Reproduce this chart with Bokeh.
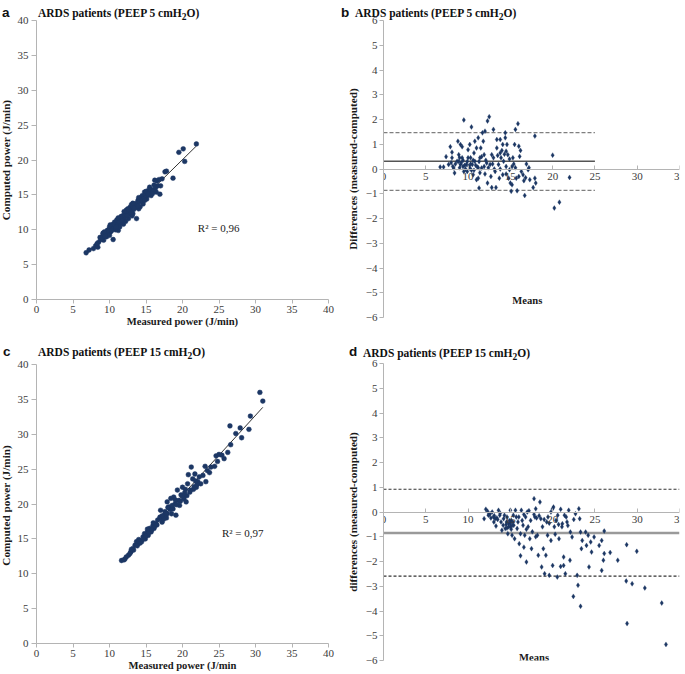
import numpy as np
from bokeh.plotting import figure
from bokeh.layouts import column, row
from bokeh.models import Range1d, LinearAxis, SingleIntervalTicker, Label, Div
from bokeh.embed import file_html
from bokeh.resources import INLINE

# ---------------- data ----------------
# Panel a: PEEP 5, measured vs computed power (J/min)
a_measured = [6.8, 7.2, 7.8, 8.1, 8.5, 8.4, 8.9, 9.3, 9.2, 9.8, 9.7, 10.1, 10.5, 10.3, 10.7, 11.0, 10.7, 11.2, 11.4, 11.7,
              11.9, 12.1, 12.3, 12.6, 12.8, 13.2, 13.5, 13.7, 13.9, 14.0, 14.4, 14.6, 14.8, 15.1, 15.3, 15.5, 15.7, 15.8, 16.2, 16.4,
              16.6, 16.9, 17.0, 17.2, 17.6, 17.8, 18.7, 19.5, 20.1, 20.3, 21.9,
              9.0, 9.5, 9.9, 10.2, 10.4, 10.6, 10.9, 11.1, 11.3, 11.5, 11.8, 12.0, 12.2, 12.4, 12.7, 12.9, 13.1, 13.3, 13.6, 13.8,
              14.1, 14.3, 14.5, 14.7, 14.9, 15.0, 15.2, 15.4, 15.6, 16.0, 16.1, 16.5, 9.6, 10.0, 10.8, 11.6, 12.5, 13.4,
              8.7, 9.1, 10.0, 11.0, 12.0, 13.0, 14.0, 11.4, 12.2, 13.1, 14.2,
              8.3, 8.8, 9.4, 9.8, 10.3, 10.5, 10.9, 11.3, 11.7, 12.1, 12.6, 13.0, 13.4, 13.9, 14.4, 14.8, 15.3, 15.9, 16.3, 16.8,
              9.3, 10.1, 11.2, 12.4, 13.2]
a_computed = [6.7, 7.1, 7.3, 7.7, 8.2, 7.5, 8.7, 9.2, 8.5, 9.4, 9.9, 9.65, 8.6, 10.1, 10.4, 10.8, 11.1, 9.9, 11.3, 11.8,
              10.8, 12.3, 12.8, 11.6, 13.2, 12.3, 13.7, 11.6, 14.2, 13.0, 14.7, 13.7, 15.4, 14.4, 15.6, 16.1, 14.9, 15.7, 17.1, 15.4,
              16.3, 15.1, 16.3, 17.3, 18.3, 18.4, 17.4, 21.1, 21.6, 19.8, 22.3,
              9.0, 9.6, 10.0, 9.8, 10.6, 10.2, 11.0, 10.6, 11.6, 11.0, 12.0, 11.5, 12.1, 12.5, 12.2, 12.7, 13.3, 12.9, 13.2, 13.8,
              14.0, 14.3, 14.9, 14.5, 15.1, 15.5, 14.9, 15.3, 15.8, 15.6, 16.4, 17.0, 9.0, 10.4, 10.0, 11.9, 13.0, 13.5,
              8.9, 9.5, 9.2, 11.4, 12.6, 13.6, 14.6, 10.4, 11.2, 12.0, 13.3,
              8.0, 8.6, 9.1, 9.9, 9.9, 10.8, 10.4, 11.2, 11.3, 12.0, 12.9, 12.5, 13.1, 13.4, 14.1, 14.2, 15.1, 15.2, 16.0, 17.2,
              9.7, 10.7, 11.7, 12.0, 13.8]
a_r2 = "R² = 0,96"

# Panel b: PEEP 5, Bland-Altman
b_means = [6.7, 7.1, 7.4, 7.9, 7.7, 8.1, 8.1, 8.3, 8.4, 8.7, 8.8, 8.9, 9.1, 9.1, 9.3, 9.3, 9.4, 9.5, 9.5, 9.8,
           10.0, 10.0, 10.2, 10.2, 10.3, 10.4, 10.5, 10.6, 10.7, 10.8, 10.8, 11.0, 11.0, 11.1, 11.2, 11.2, 11.3, 11.4, 11.5, 11.6,
           11.7, 11.8, 11.9, 12.0, 12.2, 12.3, 12.3, 12.5, 12.6, 12.7, 12.8, 12.8, 13.0, 13.0, 13.2, 13.3, 13.4, 13.4, 13.6, 13.7,
           13.8, 13.8, 13.9, 14.1, 14.1, 14.2, 14.4, 14.4, 14.5, 14.5, 14.6, 14.7, 14.8, 14.9, 15.0, 15.1, 15.2, 15.2, 15.3, 15.5,
           15.6, 15.7, 15.8, 15.9, 16.0, 16.1, 16.3, 16.5, 16.6, 16.7, 16.9, 17.1, 17.3, 17.7, 17.9, 17.9, 18.0, 20.0, 20.2, 20.8, 22.0,
           8.5, 8.9, 9.0, 9.2, 9.4, 9.6, 9.7, 9.9, 10.1, 10.3, 10.4, 10.6, 10.9, 11.2, 11.3, 11.6, 11.9, 12.1, 12.4, 12.9,
           13.5, 14.0, 14.3, 14.9, 15.4, 8.2, 8.0, 9.0, 9.9, 10.7, 11.4, 12.0, 13.1, 13.8, 14.5, 15.6, 16.2, 16.0, 16.8, 17.2]
b_diffs = [0.08, 0.08, 0.5, 0.9, 0.18, 0.68, 0.45, 0.04, -0.16, 0.31, 1.12, 0.58, 0.18, 0.99, 0.9, 0.45, 0.1, 1.98, -0.1, 0.18,
           0.45, 0.78, 0.04, 0.99, 0.45, 1.7, 0.18, -0.23, 0.65, 1.12, 0.31, 0.85, -0.43, 0.08, 1.26, -0.37, -0.77, 0.45, 0.85, 0.04,
           1.46, 1.12, 0.58, 1.53, 0.24, -0.57, 1.94, 2.11, 0.18, -0.3, 0.58, -0.75, 1.6, 0.45, -0.1, -0.75, 1.19, 0.85, 0.18, -0.37,
           1.19, 0.65, 0.45, -0.23, 0.99, 0.31, 1.46, 1.26, 0.72, 0.1, 0.99, 0.58, -0.37, -0.03, -0.57, -0.9, -0.64, 0.1, 0.45, 0.99,
           1.6, -0.37, -0.88, 1.83, 0.92, 0.51, -0.1, -0.23, -0.47, -1.07, 0.2, -0.03, -0.43, -0.75, -0.37, 1.33, -0.57, 0.56, -1.58, -1.34, -0.34,
           0.2, 0.3, 0.05, 0.25, 0.35, 0.15, 0.0, 0.3, 0.12, 0.2, -0.05, 0.35, 0.15, 0.05, 0.3, 0.5, 0.1, 0.35, 0.05, 0.2,
           0.55, 0.75, 0.6, 0.4, 0.2, 0.1, 0.25, 0.45, -0.1, -0.05, -0.15, -0.2, 0.0, 0.0, -0.2, 0.05, 0.75, -0.3, -0.35, 0.05]
b_bias = 0.31
b_limits = [1.47, -0.86]
b_line_x = [0, 25]

# Panel c: PEEP 15, measured vs computed power (J/min)
c_measured = [11.65, 12.1, 12.3, 12.6, 12.9, 13.2, 13.5, 13.7, 13.9, 14.1, 14.4, 14.6, 14.8, 14.9, 15.2, 15.3, 15.5, 15.7, 15.95, 16.1,
              16.3, 16.6, 16.9, 17.0, 17.2, 17.5, 17.6, 17.8, 17.9, 18.2, 18.4, 18.5, 18.7, 18.8, 19.0, 19.1, 19.3, 19.5, 19.6, 19.8,
              20.0, 20.2, 20.4, 20.5, 20.7, 20.8, 21.0, 21.2, 21.4, 21.5, 21.7, 21.9, 22.1, 22.3, 22.5, 22.8, 23.1, 23.2, 23.4, 23.7,
              23.9, 24.4, 24.6, 24.8, 25.0, 25.4, 25.7, 26.2, 26.5, 26.6, 27.3, 27.9, 28.1, 29.1, 29.3, 30.6, 31.0,
              12.0, 12.8, 13.3, 13.8, 14.2, 14.7, 15.0, 15.4, 15.8, 16.2, 16.5, 17.1, 17.4, 17.9, 18.3, 18.6, 19.2, 19.7, 20.1, 20.6,
              21.1, 21.6, 22.0, 18.0, 19.0, 16.0, 15.2, 14.0, 13.0, 17.2, 20.3, 21.8]
c_computed = [11.9, 12.1, 12.4, 12.65, 13.1, 13.6, 14.1, 14.6, 14.3, 14.8, 14.6, 15.3, 15.75, 15.0, 16.0, 15.5, 16.5, 16.0, 16.9, 16.5,
              17.2, 17.7, 18.1, 19.1, 17.4, 18.4, 18.9, 18.0, 20.3, 19.6, 20.8, 18.6, 19.3, 21.0, 20.0, 18.4, 22.0, 20.5, 19.8, 21.3,
              22.4, 20.7, 22.1, 20.3, 22.9, 24.2, 21.7, 25.3, 23.6, 22.1, 24.3, 22.4, 23.2, 23.9, 22.9, 24.1, 25.4, 23.2, 24.8, 24.5,
              25.3, 25.4, 26.9, 26.1, 27.1, 27.0, 26.5, 27.4, 31.2, 28.5, 30.1, 30.9, 29.5, 30.7, 32.6, 36.0, 34.75,
              12.0, 12.9, 13.4, 14.0, 14.4, 15.0, 15.4, 15.9, 16.3, 16.8, 17.0, 17.9, 17.8, 18.6, 19.2, 19.8, 19.9, 20.4, 21.0, 21.2,
              22.0, 22.5, 22.8, 19.5, 20.6, 17.3, 16.4, 14.9, 13.5, 18.3, 21.6, 23.3]
c_r2 = "R² = 0,97"

# Panel d: PEEP 15, Bland-Altman
d_means = [11.9, 12.1, 12.3, 12.4, 12.6, 12.7, 12.85, 13.0, 13.05, 13.2, 13.3, 13.4, 13.6, 13.75, 13.9, 14.0, 14.15, 14.2, 14.3, 14.4,
           14.55, 14.6, 14.7, 14.8, 15.0, 15.0, 15.1, 15.2, 15.35, 15.4, 15.5, 15.6, 15.7, 15.8, 15.9, 16.05, 16.2, 16.2, 16.3, 16.4,
           16.5, 16.6, 16.7, 16.8, 16.9, 17.0, 17.1, 17.3, 17.4, 17.5, 17.8, 17.9, 18.0, 18.1, 18.2, 18.3, 18.5, 18.6, 18.7, 18.8,
           18.9, 19.05, 19.2, 19.3, 19.4, 19.45, 19.6, 19.8, 19.8, 20.0, 20.0, 20.1, 20.2, 20.4, 20.55, 20.6, 20.75, 20.95, 20.95, 21.15,
           21.3, 21.3, 21.4, 21.5, 21.6, 21.7, 21.9, 22.05, 22.1, 22.3, 22.45, 22.7, 22.9, 23.0, 23.1, 23.2, 23.3, 23.3, 23.4, 23.5,
           23.9, 24.0, 24.2, 24.3, 24.5, 24.6, 24.9, 25.5, 25.8, 26.1, 26.1, 26.0, 25.8, 26.8, 27.7, 28.75, 28.7, 28.8, 29.4, 29.95,
           30.9, 32.9, 33.4,
           14.5, 14.8, 15.0, 15.2, 15.3, 14.9, 15.1, 14.6, 13.5, 13.8, 16.0, 16.6, 17.2, 17.8, 18.4, 19.0, 19.6, 20.7, 21.1, 12.5,
           13.1, 16.9, 17.6, 18.0, 20.3, 21.8, 22.5]
d_diffs = [-0.27, 0.11, 0.03, -0.13, -0.07, -0.24, 0.0, -0.2, -0.4, -0.27, -0.57, -0.24, 0.07, -0.13, -0.4, -0.74, -0.54, -0.27, -0.13, -0.67,
           -0.4, -0.2, -0.88, -0.47, 0.07, -0.6, -0.34, -0.94, -0.13, -0.54, -1.08, 0.07, -0.2, -0.67, -0.4, -1.28, -1.77, -0.88, 0.07, -0.34,
           -0.54, -1.42, -0.94, -0.2, -2.02, 0.0, -0.6, -1.08, -0.34, -1.48, 0.54, -0.2, 0.13, -0.24, -0.94, -1.75, 0.4, -0.27, -2.22, -0.6,
           -1.48, -2.49, -1.75, -0.4, -0.94, -0.2, -2.56, -1.15, 0.0, -2.16, 0.13, 0.2, -0.6, -0.34, -2.63, -0.13, -1.08, 0.11, -2.2, -0.47,
           -2.16, -1.82, -0.13, -2.49, -0.2, -0.4, 0.07, -1.95, -0.81, -1.01, -3.41, -0.07, -2.56, -2.96, 0.13, -0.27, -3.81, -0.81, -1.48, -1.15,
           -0.81, -1.35, -0.94, -2.22, -1.21, -1.62, -1.01, -1.35, -1.15, -0.77, -1.68, -1.95, -2.36, -1.64, -1.95, -1.32, -2.79, -4.51, -2.9, -1.59,
           -3.07, -3.68, -5.35,
           -0.5, -0.6, -0.45, -0.55, -0.4, -0.35, -0.7, -0.65, -0.3, -0.05, -0.2, -0.1, 0.05, -0.1, -0.15, -0.3, -0.45, -0.5, -0.6, -0.1,
           -0.15, -0.7, -0.8, -1.0, -0.9, -0.55, -0.3]
d_bias = -0.85
d_limits = [0.92, -2.59]
d_line_x = [0, 35]

titles_html = ["ARDS patients (PEEP 5 cmH<sub>2</sub>O)", "ARDS patients (PEEP 5 cmH<sub>2</sub>O)",
               "ARDS patients (PEEP 15 cmH<sub>2</sub>O)", "ARDS patients (PEEP 15 cmH<sub>2</sub>O)"]
letters = ["a", "b", "c", "d"]

# ---------------- styling helpers ----------------
NAVY = "#1c3764"
SERIF = "Liberation Serif"
AXIS_GREY = "#b4b4b4"
TICK_TXT = "#3c3c3c"


def style_axis(ax, label=None, label_size="11.2px", tick_out=4, tick_in=0, standoff=2, label_standoff=3):
    ax.axis_line_color = AXIS_GREY
    ax.major_tick_line_color = AXIS_GREY
    ax.minor_tick_line_color = None
    ax.major_tick_out = tick_out
    ax.major_tick_in = tick_in
    ax.major_label_text_font = SERIF
    ax.major_label_text_font_size = "11px"
    ax.major_label_text_color = TICK_TXT
    ax.major_label_standoff = standoff
    ax.axis_label = label
    ax.axis_label_text_font = SERIF
    ax.axis_label_text_font_style = "bold"
    ax.axis_label_text_font_size = label_size
    ax.axis_label_text_color = "#1a1a1a"
    ax.axis_label_standoff = label_standoff


def base_fig(w, h, xr, yr, borders, x_axis=True):
    l, r, t, b = borders
    p = figure(width=w, height=h, x_range=Range1d(*xr), y_range=Range1d(*yr),
               output_backend="svg", toolbar_location=None,
               min_border_left=l, min_border_right=r, min_border_top=t, min_border_bottom=b,
               x_axis_location="below" if x_axis else None)
    p.grid.visible = False
    p.outline_line_color = None
    p.background_fill_color = "white"
    p.border_fill_color = None
    return p


def title_div(idx, width, height, letter_x, text_x, baseline):
    html = (
        f'<div style="position:relative;width:{width}px;height:{height}px;overflow:visible;">'
        f'<span style="position:absolute;left:{letter_x}px;top:{baseline - 12.5:.1f}px;line-height:16px;'
        f'font-family:\'Liberation Sans\',sans-serif;font-weight:bold;font-size:13.5px;color:#111;">{letters[idx]}</span>'
        f'<span style="position:absolute;left:{text_x}px;top:{baseline - 11.9:.1f}px;line-height:16px;white-space:nowrap;'
        f'font-family:\'Liberation Serif\',serif;font-weight:bold;font-size:11.5px;color:#111;">{titles_html[idx]}</span>'
        f'</div>')
    return Div(text=html, width=width, height=height, margin=0,
               styles={"overflow": "visible", "z-index": "5"})


def scatter_panel(xs, ys, r2_text, r2_pos, xlabel, ylabel, borders, w, h):
    p = base_fig(w, h, (0, 40), (0, 40), borders)
    style_axis(p.xaxis[0], xlabel, label_size="10.6px", tick_out=4, standoff=2, label_standoff=0)
    style_axis(p.yaxis[0], ylabel, label_size="11.2px", tick_out=5, standoff=3, label_standoff=3)
    p.xaxis[0].ticker = SingleIntervalTicker(interval=5)
    p.yaxis[0].ticker = SingleIntervalTicker(interval=5)
    xs_arr = np.array(xs)
    ys_arr = np.array(ys)
    slope, inter = np.polyfit(xs_arr, ys_arr, 1)
    fx = np.array([xs_arr.min(), xs_arr.max()])
    p.line(fx, slope * fx + inter, line_color="#333333", line_width=1)
    p.scatter(xs, ys, marker="circle", size=4.8, fill_color=NAVY, line_color=NAVY, line_width=0.5)
    p.add_layout(Label(x=r2_pos[0], y=r2_pos[1], text=r2_text, text_font=SERIF, text_font_size="11px",
                       text_baseline="middle", text_align="left", text_color="#222222"))
    return p


def ba_panel(xs, ys, bias, limits, line_x, mean_style, dash_style, ylabel, means_pos, borders, w, h):
    p = base_fig(w, h, (0, 35), (-6, 6), borders, x_axis=False)
    xax = LinearAxis(fixed_location=0, ticker=SingleIntervalTicker(interval=5))
    style_axis(xax, None, tick_out=0, tick_in=4, standoff=0)
    p.add_layout(xax, "below")
    style_axis(p.yaxis[0], ylabel, label_size="11.2px", tick_out=4, standoff=2, label_standoff=4)
    p.yaxis[0].ticker = SingleIntervalTicker(interval=1)
    p.line(line_x, [bias, bias], line_color=mean_style[0], line_width=mean_style[1])
    for lim in limits:
        p.line(line_x, [lim, lim], line_color=dash_style[0], line_width=1.2, line_dash=dash_style[1])
    p.scatter(xs, ys, marker="diamond", size=5, fill_color=NAVY, line_color=NAVY, line_width=0.3)
    p.add_layout(Label(x=means_pos[0], y=means_pos[1], text="Means", text_font=SERIF, text_font_style="bold",
                       text_font_size="10.6px", text_baseline="middle", text_align="center", text_color="#1a1a1a"))
    return p


# borders: (left, right, top, bottom)
pa = scatter_panel(a_measured, a_computed, a_r2, (22.1, 10.2), "Measured power (J/min)", "Computed power (J/min)",
                   (39, 10, 14, 36), 342, 329)
pc = scatter_panel(c_measured, c_computed, c_r2, (25.4, 15.8), "Measured power (J/min", "Computed  power (J/min)",
                   (39, 10, 11, 31), 342, 321)
pb = ba_panel(b_means, b_diffs, b_bias, b_limits, b_line_x, ("#555555", 1.5), ("#7f7f7f", "4 2"),
              "Differences (measured-computed)", (17.0, -5.3), (45, 6, 14, 18), 347, 329)
pd = ba_panel(d_means, d_diffs, d_bias, d_limits, d_line_x, ("#9a9a9a", 2.5), ("#333333", "3 2"),
              "differences (measured-computed)", (17.8, -5.86), (45, 6, 10, 14), 347, 321)

ta = title_div(0, 342, 6, 6, 42, 11)
tb = title_div(1, 347, 6, 3, 17, 11)
tc = title_div(2, 342, 18, 7, 42, 21)
td = title_div(3, 347, 18, 11, 25, 21.5)

left_col = column(ta, pa, tc, pc, margin=(0, 0, 0, -4))
right_col = column(tb, pb, td, pd)
layout = row(left_col, right_col,
             styles={"position": "absolute", "top": "0px", "left": "0px"})

open("out.html", "w").write(file_html(layout, INLINE))
